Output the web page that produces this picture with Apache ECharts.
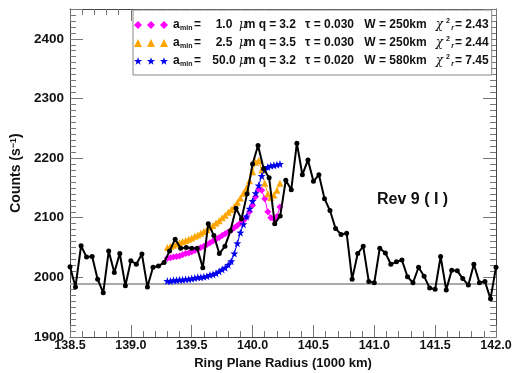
<!DOCTYPE html>
<html><head><meta charset="utf-8">
<script src="https://cdn.jsdelivr.net/npm/echarts@6.0.0/dist/echarts.min.js"></script>
<style>html,body{margin:0;padding:0;background:#fff}#c{width:514px;height:373px}</style>
</head><body><div id="c"></div>
<script>
// ---- data ----
const radius = [138.500,138.545,138.591,138.636,138.682,138.727,138.773,138.818,138.864,138.909,
138.955,139.000,139.045,139.091,139.136,139.182,139.227,139.273,139.318,139.364,
139.409,139.455,139.500,139.545,139.591,139.636,139.682,139.727,139.773,139.818,
139.864,139.909,139.955,140.000,140.045,140.091,140.136,140.182,140.227,140.273,
140.318,140.364,140.409,140.455,140.500,140.545,140.591,140.636,140.682,140.727,
140.773,140.818,140.864,140.909,140.955,141.000,141.045,141.091,141.136,141.182,
141.227,141.273,141.318,141.364,141.409,141.455,141.500,141.545,141.591,141.636,
141.682,141.727,141.773,141.818,141.864,141.909,141.955,142.000];
const counts = [2018,1984,2053,2034,2035,1997,1974,2044,2008,2040,
1986,2028,2022,2039,1984,2017,2019,2025,2044,2064,
2049,2050,2049,2049,2016,2090,2070,2040,2052,2078,
2116,2098,2140,2190,2221,2182,2167,2090,2103,2163,
2147,2225,2172,2197,2161,2172,2132,2112,2082,2072,
2074,1997,2040,2052,1993,1991,2049,2041,2022,2026,
2029,2001,1991,2017,2002,1982,1980,2035,1979,2012,
2011,1998,1987,2022,1991,1993,1964,2017];
const modelX = [139.300,139.325,139.350,139.375,139.400,139.425,139.450,139.475,139.500,139.525,
139.550,139.575,139.600,139.625,139.650,139.675,139.700,139.725,139.750,139.775,
139.800,139.825,139.850,139.875,139.900,139.925,139.950,139.975,140.000,140.025,
140.050,140.075,140.100,140.125,140.150,140.175,140.200,140.225];
const model1 = [2032,2033,2034,2035,2036,2038,2040,2041,2043,2045,
2047,2050,2052,2055,2058,2061,2064,2067,2070,2073,
2076,2079,2083,2087,2091,2095,2101,2110,2121,2135,
2148,2146,2132,2110,2100,2098,2102,2118];
const model2 = [2050,2052,2054,2056,2058,2060,2062,2064,2066,2069,
2071,2074,2077,2080,2084,2087,2091,2095,2100,2104,
2109,2114,2119,2126,2133,2141,2150,2162,2177,2193,
2196,2180,2158,2140,2134,2138,2146,2158];
const model3 = [1994,1994,1995,1995,1996,1996,1997,1997,1998,1999,
2000,2000,2001,2002,2004,2005,2007,2010,2013,2016,
2021,2027,2040,2057,2075,2089,2102,2115,2128,2141,
2154,2170,2180,2185,2187,2188,2189,2190];
const baseline = 1990;
const legendAmin = ['1.0','2.5','50.0'];
const legendQ = ['3.2','3.5','3.2'];
const legendTau = ['0.030','0.030','0.020'];
const legendW = ['250','250','580'];
const legendChi2 = ['2.43','2.44','7.45'];
const seriesNames = ['m1','m2','m3'];
const panelLabel = 'Rev 9 ( I )';

// ---- styling helpers ----
const FONT = "'Liberation Sans', Arial, Helvetica, sans-serif";
function starPath(cx, cy, R, r) {
  let s = '';
  for (let k = 0; k < 10; k++) {
    const a = -Math.PI / 2 + k * Math.PI / 5, rr = k % 2 ? r : R;
    s += (k ? 'L' : 'M') + (cx + rr * Math.cos(a)).toFixed(2) + ',' + (cy + rr * Math.sin(a)).toFixed(2);
  }
  return s + 'Z';
}
const offs = [4, 17, 30];
const diamond3 = 'path://' + offs.map(c => `M${c-4},4L${c},0L${c+4},4L${c},8Z`).join('');
const tri3 = 'path://' + offs.map(c => `M${c-4},8L${c},0L${c+4},8Z`).join('');
const star3 = 'path://' + offs.map(c => starPath(c, 4.1, 4.3, 1.7)).join('');
const starSym = 'path://' + starPath(5, 5, 5, 2);

const zip = (xs, ys) => xs.map((x, i) => [x, ys[i]]);
const colors = ['#ff00ff', '#ffa500', '#0000ee'];
const legendIcons = [diamond3, tri3, star3];

const chart = echarts.init(document.getElementById('c'), null, {renderer: 'canvas'});
const axisCommon = {type: 'value', splitLine: {show: false}, gridIndex: 0};
const tickColor = '#777';
const lineColor = '#444';

function legendText(name) {
  const i = seriesNames.indexOf(name);
  return `{a|a}{sub|min}{eq|=}{num|${legendAmin[i]}}{mu|μ}{t|m q =}{qv|${legendQ[i]}}` +
    `{tau|τ = ${legendTau[i]}}{w|W = ${legendW[i]}km}{chi|χ}{sup|2}{subr|r}{ev|= ${legendChi2[i]}}`;
}
const base = {fontFamily: FONT, fontWeight: 'bold', fontSize: 12, color: '#111', lineHeight: 14};

chart.setOption({
  animation: false,
  backgroundColor: '#fff',
  grid: {left: 70, top: 9, width: 426, height: 328, containLabel: false, outerBoundsMode: 'none'},
  xAxis: [
    Object.assign({}, axisCommon, {position: 'bottom', min: 138.5, max: 142, interval: 0.5,
      axisLine: {show: true, onZero: false, lineStyle: {color: lineColor, width: 1}},
      axisTick: {show: true, inside: true, length: 12, lineStyle: {color: tickColor}},
      axisLabel: {show: true, margin: 2, formatter: v => v.toFixed(1), fontFamily: FONT, fontWeight: 'bold', fontSize: 12.5, color: '#111'},
      name: 'Ring Plane Radius (1000 km)', nameLocation: 'middle', nameGap: 16,
      nameTextStyle: {fontFamily: FONT, fontWeight: 'bold', fontSize: 13, color: '#111'}}),
    Object.assign({}, axisCommon, {position: 'bottom', min: 138.5, max: 142, interval: 0.1,
      axisLine: {show: false, onZero: false}, axisTick: {show: true, inside: true, length: 6, lineStyle: {color: tickColor}},
      axisLabel: {show: false}}),
    Object.assign({}, axisCommon, {position: 'top', min: 138.5, max: 142, interval: 0.5,
      axisLine: {show: true, onZero: false, lineStyle: {color: lineColor, width: 1}},
      axisTick: {show: true, inside: true, length: 12, lineStyle: {color: tickColor}}, axisLabel: {show: false}}),
    Object.assign({}, axisCommon, {position: 'top', min: 138.5, max: 142, interval: 0.1,
      axisLine: {show: false, onZero: false}, axisTick: {show: true, inside: true, length: 6, lineStyle: {color: tickColor}},
      axisLabel: {show: false}})
  ],
  yAxis: [
    Object.assign({}, axisCommon, {position: 'left', min: 1900, max: 2450, interval: 100,
      axisLine: {show: true, onZero: false, lineStyle: {color: lineColor, width: 1}},
      axisTick: {show: true, inside: true, length: 13, lineStyle: {color: tickColor}},
      axisLabel: {show: true, margin: 6, formatter: v => (v % 100 === 0 ? String(v) : ''), fontFamily: FONT, fontWeight: 'bold', fontSize: 13.5, color: '#111'},
      name: 'Counts (s{sup|−1})', nameLocation: 'middle', nameGap: 43,
      nameTextStyle: {fontFamily: FONT, fontWeight: 'bold', fontSize: 14, color: '#111',
        rich: {sup: {fontFamily: FONT, fontWeight: 'bold', fontSize: 9, color: '#111', verticalAlign: 'top', lineHeight: 8}}}}),
    Object.assign({}, axisCommon, {position: 'left', min: 1900, max: 2450, interval: 10,
      axisLine: {show: false, onZero: false}, axisTick: {show: true, inside: true, length: 6, lineStyle: {color: tickColor}},
      axisLabel: {show: false}}),
    Object.assign({}, axisCommon, {position: 'right', min: 1900, max: 2450, interval: 100,
      axisLine: {show: true, onZero: false, lineStyle: {color: lineColor, width: 1}},
      axisTick: {show: true, inside: true, length: 13, lineStyle: {color: tickColor}}, axisLabel: {show: false}}),
    Object.assign({}, axisCommon, {position: 'right', min: 1900, max: 2450, interval: 10,
      axisLine: {show: false, onZero: false}, axisTick: {show: true, inside: true, length: 6, lineStyle: {color: tickColor}},
      axisLabel: {show: false}})
  ],
  legend: {
    orient: 'vertical', left: 133, top: 10,
    padding: [8, 3, 7, 1], itemGap: 4, itemWidth: 34, itemHeight: 8,
    borderColor: '#888', borderWidth: 1, backgroundColor: '#fff',
    selectedMode: false,
    data: seriesNames.map((n, i) => ({name: n, icon: legendIcons[i]})),
    formatter: legendText,
    textStyle: Object.assign({}, base, {
      rich: {
        a: Object.assign({}, base, {width: 7}),
        sub: Object.assign({}, base, {fontSize: 7, lineHeight: 8, verticalAlign: 'bottom', width: 14}),
        eq: Object.assign({}, base, {width: 15}),
        num: Object.assign({}, base, {width: 30, align: 'right'}),
        mu: Object.assign({}, base, {width: 8, fontStyle: 'italic', fontWeight: 'normal', fontFamily: "'DejaVu Serif', serif", align: 'left'}),
        t: Object.assign({}, base, {width: 27}),
        qv: Object.assign({}, base, {width: 27, align: 'right'}),
        tau: Object.assign({}, base, {width: 57, align: 'right'}),
        w: Object.assign({}, base, {width: 75, align: 'right'}),
        chi: Object.assign({}, base, {width: 13, align: 'right', fontStyle: 'italic', fontWeight: 'normal', fontFamily: "'DejaVu Serif', serif"}),
        sup: Object.assign({}, base, {fontSize: 7, lineHeight: 8, verticalAlign: 'top', width: 4}),
        subr: Object.assign({}, base, {fontSize: 7, lineHeight: 8, verticalAlign: 'bottom', width: 5, fontStyle: 'italic'}),
        ev: Object.assign({}, base, {})
      }
    })
  },
  graphic: [
    {type: 'text', left: 377, top: 192, z: 10,
     style: {text: panelLabel, fontFamily: FONT, fontWeight: 'bold', fontSize: 16, fill: '#111'}}
  ],
  series: [
    {name: seriesNames[0], type: 'line', data: zip(modelX, model1), symbol: 'diamond', symbolSize: 7,
     color: colors[0], itemStyle: {color: colors[0]}, lineStyle: {width: 1, color: colors[0]}, z: 3},
    {name: seriesNames[1], type: 'line', data: zip(modelX, model2), symbol: 'triangle', symbolSize: 7,
     color: colors[1], itemStyle: {color: colors[1]}, lineStyle: {width: 1, color: colors[1]}, z: 3},
    {name: seriesNames[2], type: 'line', data: zip(modelX, model3), symbol: starSym, symbolSize: 8,
     color: colors[2], itemStyle: {color: colors[2]}, lineStyle: {width: 1, color: colors[2]}, z: 3},
    {name: 'data', type: 'line', data: zip(radius, counts), symbol: 'circle', symbolSize: 5,
     color: '#000', itemStyle: {color: '#000'}, lineStyle: {width: 2, color: '#000'}, z: 4,
     markLine: {silent: true, symbol: ['none', 'none'], label: {show: false},
       lineStyle: {color: '#aaa', width: 2, type: 'solid'}, data: [{yAxis: baseline}], z: 1}}
  ]
});
</script></body></html>
